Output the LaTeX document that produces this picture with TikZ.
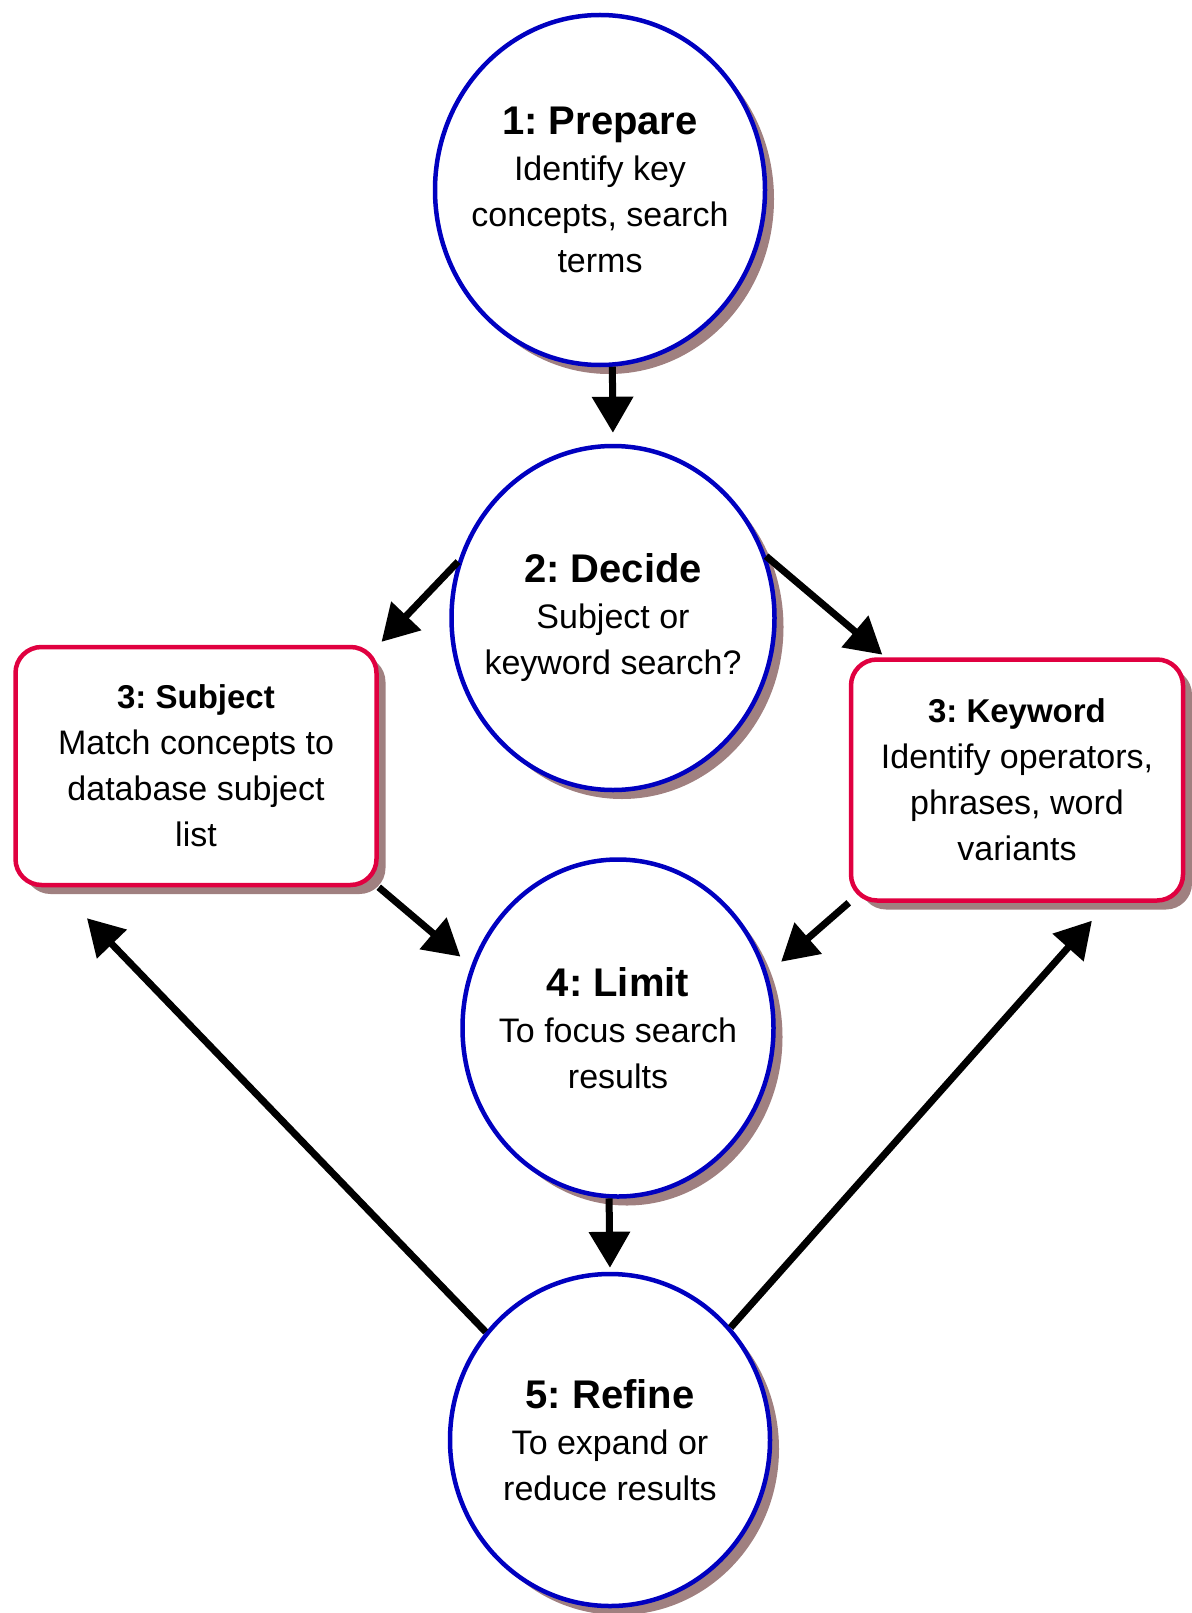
\documentclass[tikz,border=0pt]{standalone}
\usepackage{fontspec}
\setmainfont{Liberation Sans}
\usetikzlibrary{shapes,shapes.geometric,arrows.meta,shadows,calc}
\definecolor{ringblue}{RGB}{0,0,192}
\definecolor{boxred}{RGB}{224,0,64}
\definecolor{shade}{RGB}{160,128,128}
\frenchspacing

\begin{document}
\begin{tikzpicture}
	[x=1pt,y=-1pt,
	stage/.style={shape=ellipse,draw=ringblue,line width=4.5pt,fill=white,
		inner xsep=-50pt,inner ysep=0pt,align=center,font=\fontsize{34}{46}\selectfont,
		drop shadow={shadow xshift=9pt,shadow yshift=-9pt,fill=shade,opacity=1}},
	branch/.style={shape=rectangle,rounded corners=26pt,draw=boxred,line width=4.5pt,
		fill=white,inner sep=0pt,align=center,font=\fontsize{34}{46}\selectfont,
		drop shadow={shadow xshift=9pt,shadow yshift=-9pt,fill=shade,opacity=1}},
	flow/.style={line width=7pt,-{Triangle[length=36pt,width=40pt]}}]
	\useasboundingbox (0,0) rectangle (1191,1613);

	\node[stage,minimum width=330pt,minimum height=350pt] (s1) at (600,190)
		{{\fontsize{40}{46}\selectfont\bfseries 1: Prepare}\\Identify key\\concepts, search\\terms};
	\node[stage,minimum width=323pt,minimum height=344pt] (s2) at (613,618)
		{{\fontsize{40}{46}\selectfont\bfseries 2: Decide}\\Subject or\\keyword search?};
	\node[branch,minimum width=361pt,minimum height=238pt] (subj) at (196,766)
		{{\fontsize{33}{46}\selectfont\bfseries 3: Subject}\\Match concepts to\\database subject\\list};
	\node[branch,minimum width=332pt,minimum height=241pt] (kw) at (1017,780)
		{{\fontsize{33}{46}\selectfont\bfseries 3: Keyword}\\Identify operators,\\phrases, word\\variants};
	\node[stage,minimum width=311pt,minimum height=337pt] (s4) at (618,1028)
		{{\fontsize{40}{46}\selectfont\bfseries 4: Limit}\\To focus search\\results};
	\node[stage,minimum width=320pt,minimum height=332pt] (s5) at (610,1440)
		{{\fontsize{40}{46}\selectfont\bfseries 5: Refine}\\To expand or\\reduce results};

	\coordinate (subjfoot) at ($(subj.south west)!0.12!(subj.south east)$);
	\coordinate (kwfoot) at ($(kw.south west)!0.77!(kw.south east)$);

	\foreach \startNode/\endNode/\gap in {s1.274/s2.north/11, s2.160/subj.north east/4,
		s2.22/kw.137/4, subj.south east/s4.157/14, kw.south west/s4.20/18,
		s4.267/s5.north/4, s5.139/subjfoot/43, s5.43/kwfoot/24}
	{
		\draw[flow,shorten >=\gap pt] (\startNode) -- (\endNode);
	}
\end{tikzpicture}
\end{document}
